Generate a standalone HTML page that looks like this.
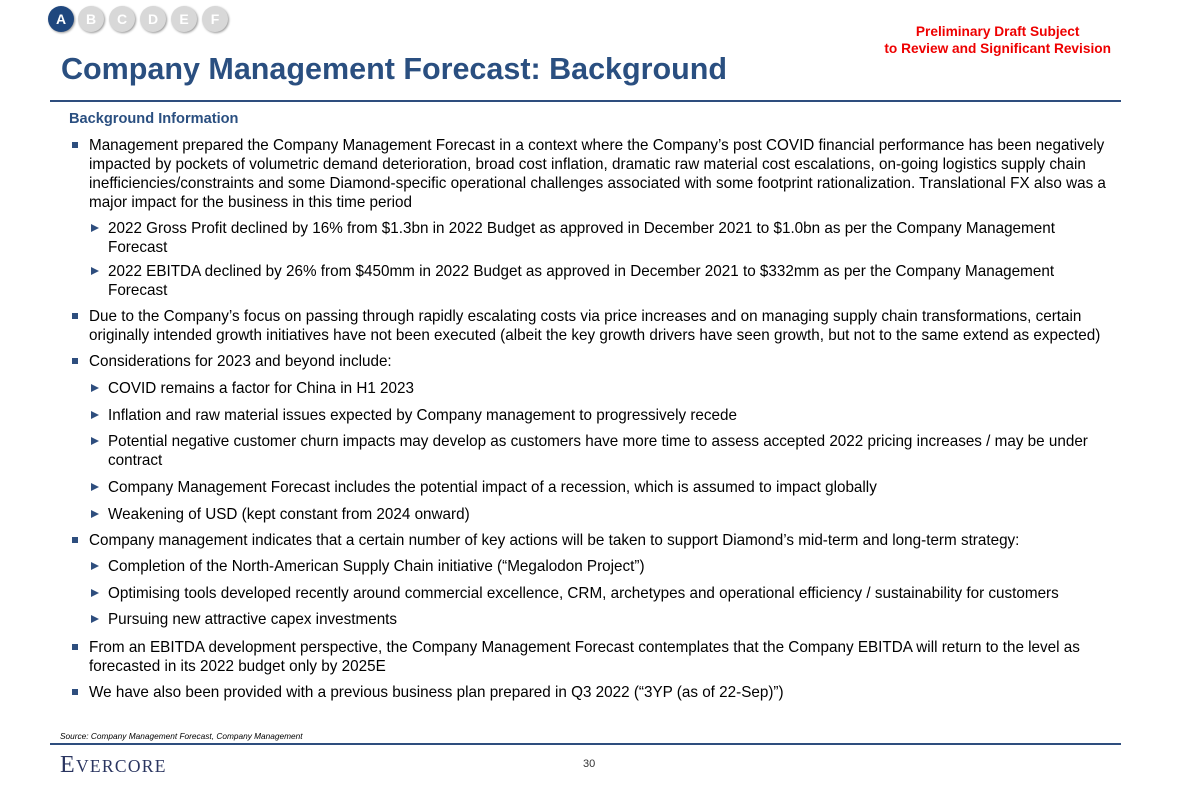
<!DOCTYPE html>
<html><head><meta charset="utf-8"><style>
body{margin:0;width:1180px;height:786px;background:#fff;position:relative;overflow:hidden;font-family:"Liberation Sans",Arial,sans-serif;color:#000}
.a{position:absolute;white-space:nowrap}
.t{font-size:15.25px;line-height:19px}
.c{position:absolute;top:6px;width:26px;height:26px;border-radius:50%;background:#d8d8d8;color:#fff;font-weight:bold;font-size:14px;text-align:center;line-height:26px;box-shadow:1px 1px 2px #999}
.sq{position:absolute;width:6px;height:6px;background:#2e4e7e}
.tr{position:absolute;width:0;height:0;border-left:8px solid #2e4e7e;border-top:4.5px solid transparent;border-bottom:4.5px solid transparent}
</style></head><body>
<div class="c" style="left:48px;background:#1f477e">A</div>
<div class="c" style="left:78px">B</div>
<div class="c" style="left:109px">C</div>
<div class="c" style="left:140px">D</div>
<div class="c" style="left:171px">E</div>
<div class="c" style="left:202px">F</div>
<div class="a" style="right:69px;top:23px;color:#e00;font-weight:bold;font-size:13.7px;line-height:17px;text-align:center">Preliminary Draft Subject<br>to Review and Significant Revision</div>
<div class="a" style="left:61px;top:52px;color:#2a4f80;font-weight:bold;font-size:30.5px">Company Management Forecast: Background</div>
<div class="a" style="left:50px;top:100px;width:1071px;height:2px;background:#2e4e7e"></div>
<div class="a" style="left:69px;top:111px;color:#2a4f80;font-weight:bold;font-size:14.6px">Background Information</div>

<div class="sq" style="left:72px;top:142px"></div>
<div class="a t" style="left:89px;top:136px">Management prepared the Company Management Forecast in a context where the Company’s post COVID financial performance has been negatively<br>impacted by pockets of volumetric demand deterioration, broad cost inflation, dramatic raw material cost escalations, on-going logistics supply chain<br>inefficiencies/constraints and some Diamond-specific operational challenges associated with some footprint rationalization. Translational FX also was a<br>major impact for the business in this time period</div>
<div class="tr" style="left:91px;top:224px"></div>
<div class="a t" style="left:108px;top:219px">2022 Gross Profit declined by 16% from $1.3bn in 2022 Budget as approved in December 2021 to $1.0bn as per the Company Management<br>Forecast</div>
<div class="tr" style="left:91px;top:267px"></div>
<div class="a t" style="left:108px;top:262px">2022 EBITDA declined by 26% from $450mm in 2022 Budget as approved in December 2021 to $332mm as per the Company Management<br>Forecast</div>
<div class="sq" style="left:72px;top:313px"></div>
<div class="a t" style="left:89px;top:307px">Due to the Company’s focus on passing through rapidly escalating costs via price increases and on managing supply chain transformations, certain<br>originally intended growth initiatives have not been executed (albeit the key growth drivers have seen growth, but not to the same extend as expected)</div>
<div class="sq" style="left:72px;top:358px"></div>
<div class="a t" style="left:89px;top:352px">Considerations for 2023 and beyond include:</div>
<div class="tr" style="left:91px;top:384px"></div>
<div class="a t" style="left:108px;top:379px">COVID remains a factor for China in H1 2023</div>
<div class="tr" style="left:91px;top:411px"></div>
<div class="a t" style="left:108px;top:406px">Inflation and raw material issues expected by Company management to progressively recede</div>
<div class="tr" style="left:91px;top:437px"></div>
<div class="a t" style="left:108px;top:432px">Potential negative customer churn impacts may develop as customers have more time to assess accepted 2022 pricing increases / may be under<br>contract</div>
<div class="tr" style="left:91px;top:483px"></div>
<div class="a t" style="left:108px;top:478px">Company Management Forecast includes the potential impact of a recession, which is assumed to impact globally</div>
<div class="tr" style="left:91px;top:510px"></div>
<div class="a t" style="left:108px;top:505px">Weakening of USD (kept constant from 2024 onward)</div>
<div class="sq" style="left:72px;top:537px"></div>
<div class="a t" style="left:89px;top:531px">Company management indicates that a certain number of key actions will be taken to support Diamond’s mid-term and long-term strategy:</div>
<div class="tr" style="left:91px;top:562px"></div>
<div class="a t" style="left:108px;top:557px">Completion of the North-American Supply Chain initiative (“Megalodon Project”)</div>
<div class="tr" style="left:91px;top:589px"></div>
<div class="a t" style="left:108px;top:584px">Optimising tools developed recently around commercial excellence, CRM, archetypes and operational efficiency / sustainability for customers</div>
<div class="tr" style="left:91px;top:615px"></div>
<div class="a t" style="left:108px;top:610px">Pursuing new attractive capex investments</div>
<div class="sq" style="left:72px;top:644px"></div>
<div class="a t" style="left:89px;top:638px">From an EBITDA development perspective, the Company Management Forecast contemplates that the Company EBITDA will return to the level as<br>forecasted in its 2022 budget only by 2025E</div>
<div class="sq" style="left:72px;top:689px"></div>
<div class="a t" style="left:89px;top:683px">We have also been provided with a previous business plan prepared in Q3 2022 (“3YP (as of 22-Sep)”)</div>

<div class="a" style="left:60px;top:731px;font-size:8.3px;font-style:italic">Source: Company Management Forecast, Company Management</div>
<div class="a" style="left:50px;top:743px;width:1071px;height:2px;background:#2e4e7e"></div>
<div class="a" style="left:60px;top:752px;font-family:'Liberation Serif',serif;color:#2a3560;font-size:24px;letter-spacing:1.3px">E<span style="font-size:17.5px">VERCORE</span></div>
<div class="a" style="left:583px;top:758px;font-size:11px;color:#333">30</div>
</body></html>
